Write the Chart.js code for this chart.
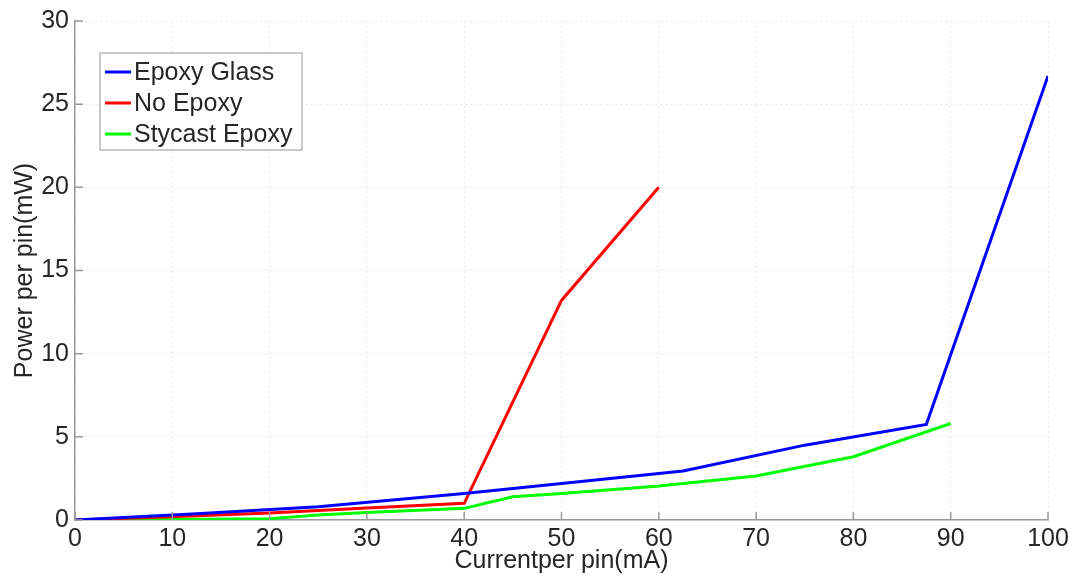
<!DOCTYPE html>
<html>
<head>
<meta charset="utf-8">
<script src="https://cdn.jsdelivr.net/npm/chart.js@4.4.1/dist/chart.umd.min.js"></script>
<style>
  html, body { margin: 0; padding: 0; background: #fff; }
  #wrap { width: 1077px; height: 576px; }
</style>
</head>
<body>
<div id="wrap"><canvas id="myChart" width="1077" height="576"></canvas></div>
<script>
// currents (mA) and powers (mW)
const glassCurrent = [0, 12.5, 25, 40, 62.5, 75, 87.5, 100];
const glassPower = [0, 0.38, 0.8, 1.6, 2.95, 4.5, 5.75, 26.7];

const noEpoxyCurrent = [0, 10, 20, 30, 40, 50, 60];
const noEpoxyPower = [0, 0.2, 0.42, 0.72, 1.0, 13.2, 20];

const stycastCurrent = [0, 10, 20, 25, 30, 40, 45, 50, 60, 70, 80, 90];
const stycastPower = [0, 0.03, 0.08, 0.3, 0.45, 0.7, 1.4, 1.6, 2.05, 2.65, 3.8, 5.8];

const xTicks = [0, 10, 20, 30, 40, 50, 60, 70, 80, 90, 100];
const yTicks = [0, 5, 10, 15, 20, 25, 30];

const toPoints = (xs, ys) => xs.map((x, i) => ({ x: x, y: ys[i] }));

const FONT = 'Liberation Sans, Arial, sans-serif';
const FS = 25;
const TEXT = '#262626';

// MATLAB-style legend box inside the axes
const boxLegend = {
  id: 'boxLegend',
  afterDraw(chart) {
    const ctx = chart.ctx;
    const left = 100, top = 53, w = 202, h = 97, rowH = 31;
    ctx.save();
    ctx.fillStyle = '#fff';
    ctx.fillRect(left, top, w, h);
    ctx.strokeStyle = '#b8b8b8';
    ctx.lineWidth = 1.5;
    ctx.strokeRect(left, top, w, h);
    ctx.font = FS + 'px ' + FONT;
    ctx.textBaseline = 'middle';
    chart.data.datasets.forEach((ds, i) => {
      const y = top + 19 + i * rowH;
      ctx.strokeStyle = ds.borderColor;
      ctx.lineWidth = 3;
      ctx.beginPath();
      ctx.moveTo(left + 5, y);
      ctx.lineTo(left + 31, y);
      ctx.stroke();
      ctx.fillStyle = TEXT;
      ctx.fillText(ds.label, left + 34, y + 1);
    });
    ctx.restore();
  }
};

// short inward tick marks
const innerTicks = {
  id: 'innerTicks',
  afterDatasetsDraw(chart) {
    const ctx = chart.ctx;
    const xs = chart.scales.x, ys = chart.scales.y;
    const a = chart.chartArea;
    ctx.save();
    ctx.strokeStyle = '#999';
    ctx.lineWidth = 1.5;
    ctx.beginPath();
    xTicks.forEach(v => {
      const px = xs.getPixelForValue(v);
      ctx.moveTo(px, a.bottom);
      ctx.lineTo(px, a.bottom - 8);
    });
    yTicks.forEach(v => {
      const py = ys.getPixelForValue(v);
      ctx.moveTo(a.left, py);
      ctx.lineTo(a.left + 8, py);
    });
    ctx.stroke();
    ctx.restore();
  }
};

const ctx = document.getElementById('myChart').getContext('2d');
new Chart(ctx, {
  type: 'line',
  data: {
    datasets: [
      { label: 'Epoxy Glass', data: toPoints(glassCurrent, glassPower), borderColor: '#0000ff' },
      { label: 'No Epoxy', data: toPoints(noEpoxyCurrent, noEpoxyPower), borderColor: '#ff0000' },
      { label: 'Stycast Epoxy', data: toPoints(stycastCurrent, stycastPower), borderColor: '#00ff00' }
    ]
  },
  options: {
    responsive: false,
    animation: false,
    layout: { padding: { top: 19, right: 29, left: 0, bottom: 0 } },
    elements: {
      line: { borderWidth: 3, tension: 0 },
      point: { radius: 0 }
    },
    plugins: {
      legend: { display: false },
      tooltip: { enabled: false }
    },
    scales: {
      x: {
        type: 'linear',
        min: 0,
        max: 100,
        afterFit: s => { s.height = 56; },
        afterBuildTicks: s => { s.ticks = xTicks.map(v => ({ value: v })); },
        grid: { color: '#e8e8e8', drawTicks: false, lineWidth: 1 },
        border: { color: '#999', width: 1.5, dash: [2, 3] },
        ticks: { color: TEXT, font: { family: FONT, size: FS }, padding: 4, maxRotation: 0 },
        title: { display: true, text: 'Currentper pin(mA)', color: TEXT, font: { family: FONT, size: FS }, padding: { top: 0, bottom: 0 } }
      },
      y: {
        min: 0,
        max: 30,
        afterFit: s => { s.width = 75; },
        afterBuildTicks: s => { s.ticks = yTicks.map(v => ({ value: v })); },
        grid: { color: '#e8e8e8', drawTicks: false, lineWidth: 1 },
        border: { color: '#999', width: 1.5, dash: [2, 3] },
        ticks: { color: TEXT, font: { family: FONT, size: FS }, padding: 6 },
        title: { display: true, text: 'Power per pin(mW)', color: TEXT, font: { family: FONT, size: FS }, padding: { top: 10, bottom: 0 } }
      }
    }
  },
  plugins: [innerTicks, boxLegend]
});
</script>
</body>
</html>
